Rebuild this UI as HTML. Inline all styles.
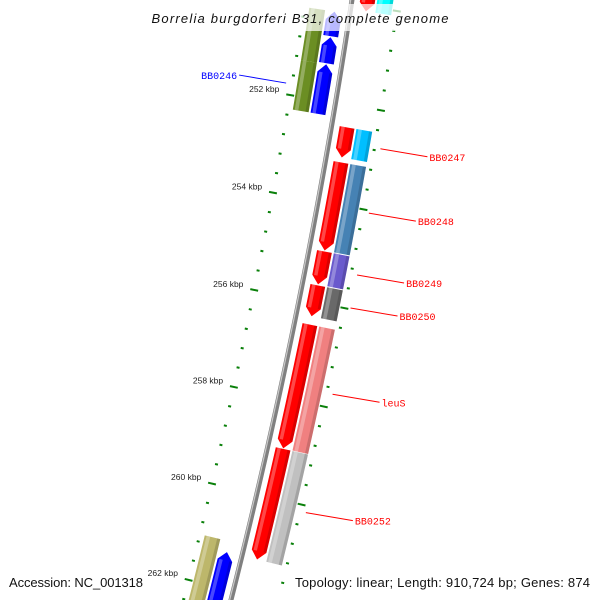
<!DOCTYPE html>
<html><head><meta charset="utf-8"><style>
html,body{margin:0;padding:0;background:#fff;width:600px;height:600px;overflow:hidden;}
svg{display:block;overflow:hidden;}
text{font-family:"Liberation Sans",sans-serif;}
</style></head><body>
<svg id="map" width="600" height="600" viewBox="0 0 600 600" xmlns="http://www.w3.org/2000/svg">
<g id="ticks"></g>
<g id="feats"></g>
<g id="backbone"></g>
<g id="labels"></g>
<rect x="0" y="4" width="600" height="27" fill="#fff" fill-opacity="0.72"/>
<text x="300" y="23" text-anchor="middle" font-size="13" font-style="italic" fill="#111" textLength="297" lengthAdjust="spacing">Borrelia burgdorferi B31, complete genome</text>
<text x="9" y="587" font-size="13" fill="#111" textLength="134" lengthAdjust="spacing">Accession: NC_001318</text>
<text x="295" y="587" font-size="13" fill="#111" textLength="295" lengthAdjust="spacing">Topology: linear; Length: 910,724 bp; Genes: 874</text>
</svg>
<script>
// data (kbp)
const geneStarts = [249.3, 250.2, 250.72, 251.27, 252.45, 253.16, 254.97, 255.66, 256.46, 259.0, 261.27];
const geneEnds   = [250.1, 250.7, 251.25, 252.28, 253.06, 254.95, 255.64, 256.29, 258.99, 261.27, 263.2];
const geneStrand = [1, -1, -1, -1, 1, 1, 1, 1, 1, 1, -1];
const geneColors = ["#ff0000","#0000ff","#0000ff","#0000ff","#ff0000","#ff0000","#ff0000","#ff0000","#ff0000","#ff0000","#0000ff"];
const cogStarts  = [249.3, 250.2, 251.27, 252.45, 253.16, 254.97, 255.66, 256.46, 259.0, 261.05];
const cogEnds    = [250.1, 251.27, 252.28, 253.06, 254.95, 255.64, 256.29, 258.99, 261.27, 263.2];
const cogStrand  = [1, -1, -1, 1, 1, 1, 1, 1, 1, -1];
const cogColors  = ["#00ffff","#6b8e23","#6b8e23","#00bfff","#4682b4","#6a5acd","#696969","#f08080","#c0c0c0","#bdb76b"];
const geneLabels = ["","","","BB0246","BB0247","BB0248","BB0249","BB0250","leuS","BB0252",""];
const tickMajor = [250, 252, 254, 256, 258, 260, 262];
const tickLabels = ["250 kbp","252 kbp","254 kbp","256 kbp","258 kbp","260 kbp","262 kbp"];
const tickMinorStep = 0.4;

const NS="http://www.w3.org/2000/svg";
const CX=-5851, CY=-938.7, R0=6273.6, A0=9.555, DEG=0.4559;
function P(k,r){const t=(A0+(k-252)*DEG)*Math.PI/180;return [CX+r*Math.cos(t),CY+r*Math.sin(t)];}
function pts(a){return a.map(p=>p[0].toFixed(2)+","+p[1].toFixed(2)).join(" ");}
function mk(tag,parent,attrs){const e=document.createElementNS(NS,tag);for(const k in attrs)e.setAttribute(k,attrs[k]);parent.appendChild(e);return e;}

// backbone
const bb=document.getElementById('backbone');
const bpts=[];for(let k=249;k<=262.8;k+=0.25)bpts.push(P(k,R0));
const bl=mk('polyline',bb,{points:pts(bpts),fill:'none',stroke:'#808080','stroke-width':5});


const bl2=mk('polyline',bb,{points:pts(bpts.map((p,i)=>P(249+i*0.25,R0-1.3))),fill:'none',stroke:'#c8c8c8','stroke-width':1.2});



// ticks
const tg=document.getElementById('ticks');
for(let k=249.6;k<=262.81;k+=tickMinorStep){
  const kk=Math.round(k*10)/10;
  const mi=tickMajor.indexOf(kk);
  const major=mi>=0;
  [-46,46].forEach(off=>{
    const a=P(kk,R0+off-(major?4:1.5)), b=P(kk,R0+off+(major?4:1.5));
    const l=mk('line',tg,{x1:a[0],y1:a[1],x2:b[0],y2:b[1],stroke:'#0a800a','stroke-width':2});
    
    
  });
  if(major){
    const p=P(kk,R0-57);
    const t=mk('text',tg,{x:p[0],y:p[1]-1,'text-anchor':'end','font-size':8.5,fill:'#222'});
    t.textContent=tickLabels[mi];
    
    
  }
}

// features
const fg=document.getElementById('feats');
function feature(s,e,strand,r1,r2,color,name){
  const g=mk('g',fg,{});
  
  
  const ah=strand===0?0:Math.min(0.17,(e-s)*0.8), rm=(r1+r2)/2, N=6;
  const left=[],right=[];
  let bs=s,be=e;
  if(strand>0)be=e-ah;else if(strand<0)bs=s+ah;
  for(let i=0;i<=N;i++){const k=bs+(be-bs)*i/N;left.push(P(k,r1));right.push(P(k,r2));}
  let poly;
  if(strand>0){poly=[...left,P(e,rm),...right.reverse()];}
  else if(strand<0){poly=[P(s,rm),...left,...right.reverse()];}
  else{poly=[...left,...right.reverse()];}
  mk('polygon',g,{points:pts(poly),fill:color});
  const w=r2-r1;
  const sh=[];const sh2=[];
  for(let i=0;i<=N;i++){const k=bs+(be-bs)*i/N;sh.push(P(k,r1+w*0.12));}
  for(let i=N;i>=0;i--){const k=bs+(be-bs)*i/N;sh.push(P(k,r1+w*0.35));}
  mk('polygon',g,{points:pts(sh),fill:'#fff','fill-opacity':0.28});
  for(let i=0;i<=N;i++){const k=bs+(be-bs)*i/N;sh2.push(P(k,r2-w*0.2));}
  for(let i=N;i>=0;i--){const k=bs+(be-bs)*i/N;sh2.push(P(k,r2));}
  mk('polygon',g,{points:pts(sh2),fill:'#000','fill-opacity':0.15});
}
for(let i=0;i<geneStarts.length;i++){
  const st=geneStrand[i];
  const r1=st>0?R0+8:R0-23, r2=st>0?R0+23:R0-8;
  feature(geneStarts[i],geneEnds[i],st,r1,r2,geneColors[i],'gene-'+(geneLabels[i]||('feature-'+i)).toLowerCase());
}
for(let i=0;i<cogStarts.length;i++){
  const st=cogStrand[i];
  const r1=st>0?R0+25:R0-41, r2=st>0?R0+41:R0-25;
  feature(cogStarts[i],cogEnds[i],0,r1,r2,cogColors[i],'cog-feature');
}

// labels
const lg=document.getElementById('labels');
for(let i=0;i<geneStarts.length;i++){
  if(!geneLabels[i])continue;
  const mid=(geneStarts[i]+geneEnds[i])/2, st=geneStrand[i];
  const col=st>0?'#ff0000':'#0000ff';
  const a=P(mid,st>0?R0+52:R0-52);
  const b=[a[0]+47*st,a[1]+(st>0?8:-8)];
  const l=mk('line',lg,{x1:a[0],y1:a[1],x2:b[0],y2:b[1],stroke:col,'stroke-width':1});
  
  
  const t=mk('text',lg,{x:b[0]+2*st,y:b[1]+4,'text-anchor':st>0?'start':'end','font-size':10,fill:col,style:'font-family:"Liberation Mono",monospace'});
  t.textContent=geneLabels[i];
  
  
}
</script>
</body></html>
